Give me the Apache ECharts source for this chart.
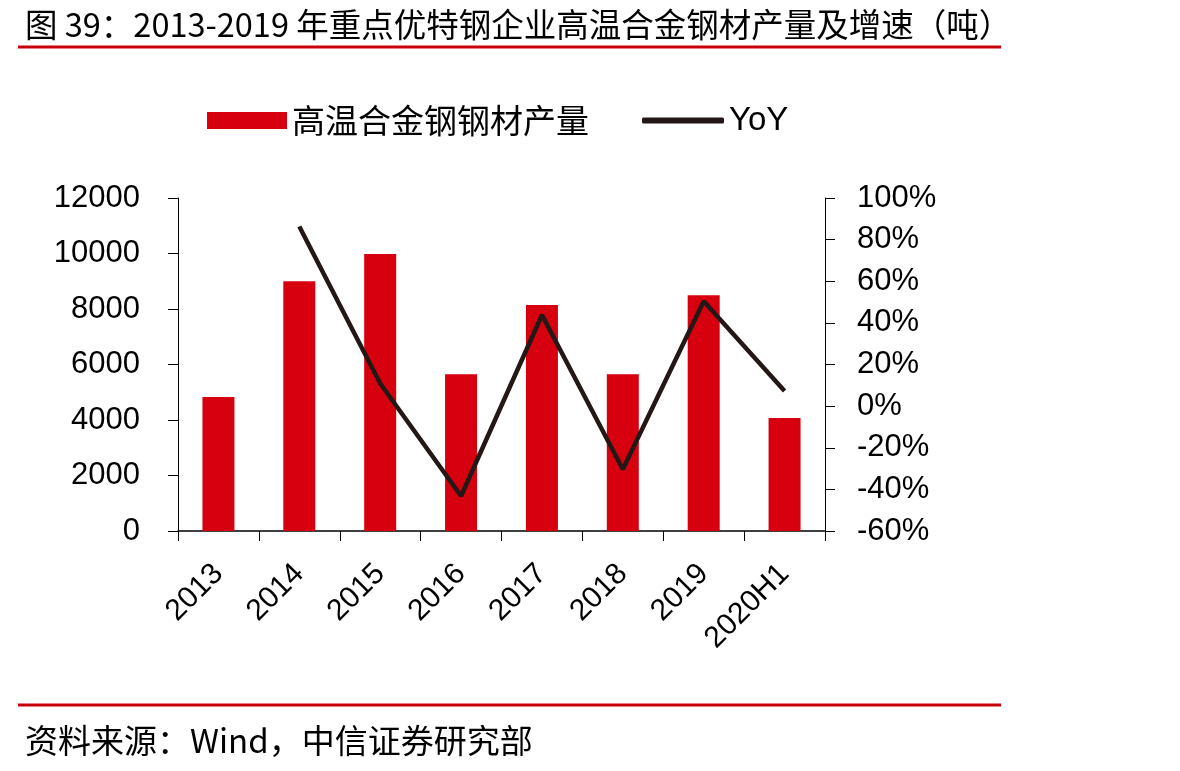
<!DOCTYPE html>
<html>
<head>
<meta charset="utf-8">
<script src="https://cdn.jsdelivr.net/npm/echarts@6/dist/echarts.min.js"></script>
<style>
html,body{margin:0;padding:0;background:#fff;}
#chart{width:1180px;height:771px;}
</style>
</head>
<body>
<div id="chart"></div>
<script>
var categories = ['2013','2014','2015','2016','2017','2018','2019','2020H1'];
var output = [4830, 9000, 9980, 5650, 8140, 5650, 8500, 4070];
var yoy = [null, 86.3, 10.9, -43.2, 43.8, -30.3, 50.4, 7.3];
var leftTicks = {min: 0, max: 12000, interval: 2000};
var rightTicks = {min: -60, max: 100, interval: 20};
var titleText = '图 39：2013-2019 年重点优特钢企业高温合金钢材产量及增速（吨）';
var sourceText = '资料来源：Wind，中信证券研究部';
var barName = '高温合金钢钢材产量';
var lineName = 'YoY';

var FONT = '"Liberation Sans", Arial, "Noto Sans CJK SC", sans-serif';
var CJK = '"Noto Sans CJK SC", "Liberation Sans", sans-serif';

var chart = echarts.init(document.getElementById('chart'), null, {renderer: 'canvas'});
chart.setOption({
  backgroundColor: '#ffffff',
  animation: false,
  textStyle: {fontFamily: FONT, color: '#000'},
  title: [{
    text: titleText,
    left: 20, top: 3,
    textStyle: {fontFamily: CJK, fontSize: 32.5, fontWeight: 'normal', color: '#000'}
  }, {
    text: sourceText,
    left: 20, top: 719,
    textStyle: {fontFamily: CJK, fontSize: 33, fontWeight: 'normal', color: '#000'}
  }],
  graphic: [
    {type: 'line', shape: {x1: 18, y1: 47, x2: 1001, y2: 47}, style: {stroke: '#c8000a', lineWidth: 3}},
    {type: 'line', shape: {x1: 18, y1: 705, x2: 1001, y2: 705}, style: {stroke: '#c8000a', lineWidth: 3}}
  ],
  legend: [{
    data: [{name: barName, icon: 'rect'}],
    left: 207, top: 104, padding: 0,
    itemWidth: 80, itemHeight: 17, itemGap: 10,
    textStyle: {fontFamily: CJK, fontSize: 33, color: '#000'}
  }, {
    data: [{name: lineName, icon: 'roundRect'}],
    left: 642, top: 104, padding: 0,
    itemWidth: 82, itemHeight: 6, itemGap: 10,
    textStyle: {fontFamily: FONT, fontSize: 33, color: '#000'}
  }],
  grid: {left: 178, right: 355, top: 198, bottom: 240, containLabel: false},
  xAxis: {
    type: 'category',
    data: categories,
    boundaryGap: true,
    axisLine: {show: true, lineStyle: {color: '#000', width: 1.5}},
    axisTick: {show: true, length: 10, lineStyle: {color: '#000', width: 1}},
    axisLabel: {rotate: 45, fontSize: 30, color: '#000', margin: 38, interval: 0, fontFamily: FONT}
  },
  yAxis: [{
    type: 'value',
    min: leftTicks.min, max: leftTicks.max, interval: leftTicks.interval,
    axisLine: {show: true, lineStyle: {color: '#000', width: 1}},
    axisTick: {show: true, length: 10, lineStyle: {color: '#000'}},
    splitLine: {show: false},
    axisLabel: {fontSize: 31, color: '#000', margin: 38, fontFamily: FONT,
      formatter: function (v) { return String(v); }}
  }, {
    type: 'value',
    position: 'right',
    min: rightTicks.min, max: rightTicks.max, interval: rightTicks.interval,
    axisLine: {show: true, lineStyle: {color: '#000', width: 1}},
    axisTick: {show: true, length: 10, lineStyle: {color: '#000'}},
    splitLine: {show: false},
    axisLabel: {fontSize: 31, color: '#000', margin: 32, formatter: '{value}%', fontFamily: FONT}
  }],
  series: [{
    name: barName,
    type: 'bar',
    data: output,
    barWidth: 32,
    itemStyle: {color: '#d7000f'}
  }, {
    name: lineName,
    type: 'line',
    yAxisIndex: 1,
    data: yoy,
    symbol: 'none',
    lineStyle: {color: '#231815', width: 4.5},
    itemStyle: {color: '#231815'}
  }]
});
</script>
</body>
</html>
